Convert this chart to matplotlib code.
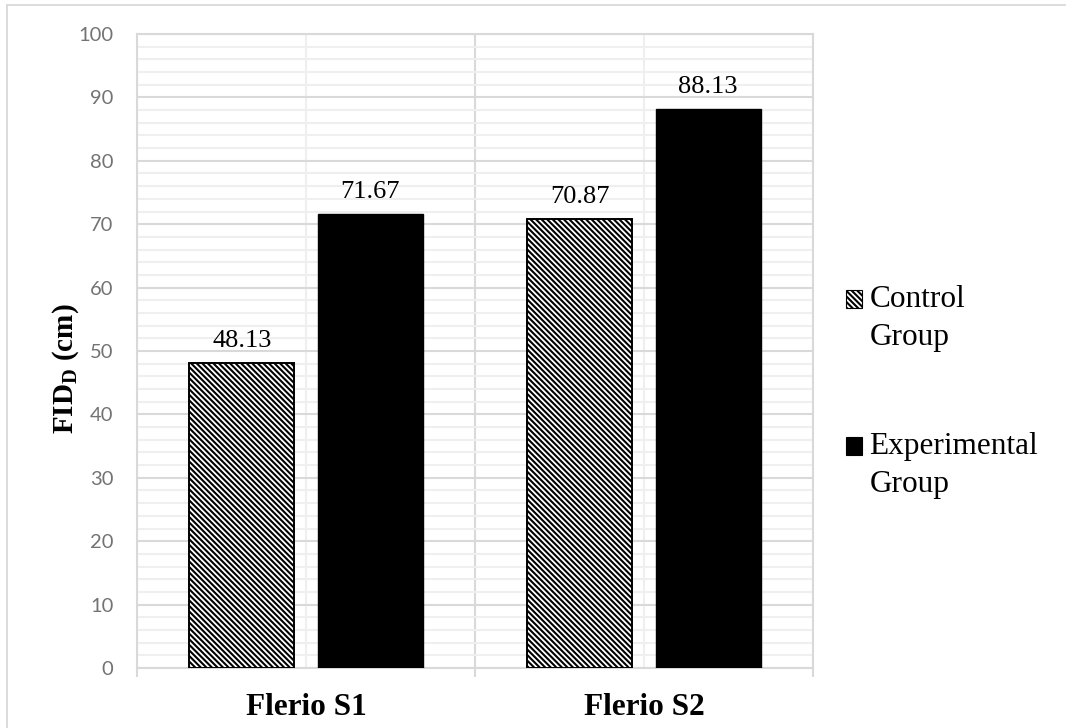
import matplotlib
matplotlib.use("Agg")
import matplotlib.pyplot as plt
from matplotlib.patches import Rectangle, Patch
from matplotlib.legend_handler import HandlerPatch
from matplotlib.ticker import MultipleLocator, FixedLocator
from matplotlib.lines import Line2D
import numpy as np

categories = ["Flerio S1", "Flerio S2"]
series_names = ["Control\nGroup", "Experimental\nGroup"]
control = [48.13, 70.87]
experimental = [71.67, 88.13]

plt.rcParams["hatch.linewidth"] = 1.5
plt.rcParams["mathtext.fontset"] = "custom"
plt.rcParams["mathtext.bf"] = "Liberation Serif:bold"
plt.rcParams["mathtext.rm"] = "Liberation Serif:bold"

SERIF = "Liberation Serif"
GRID_MAJOR = "#d9d9d9"
GRID_MINOR = "#efefef"
HATCH = "\\" * 6

fig = plt.figure(figsize=(10.75, 7.28), dpi=100)
ax = fig.add_axes([137 / 1075, 60 / 728, (813 - 137) / 1075, (668 - 34) / 728])

x = np.arange(len(categories))
width = 0.311
offset = 0.19

bars_c = ax.bar(x - offset, control, width, facecolor="white", edgecolor="black",
                hatch=HATCH, linewidth=1.4, zorder=3)
bars_e = ax.bar(x + offset, experimental, width, facecolor="black", edgecolor="black",
                linewidth=1.0, zorder=3)

for bars, vals in ((bars_c, control), (bars_e, experimental)):
    for b, v in zip(bars, vals):
        ax.annotate(f"{v:.2f}", (b.get_x() + b.get_width() / 2, v),
                    xytext=(0, 11.5), textcoords="offset points",
                    ha="center", va="baseline", fontsize=19, family=SERIF)

ax.set_xlim(-0.5, 1.5)
ax.set_ylim(0, 100)

# y grid: major every 10, minor every 2
ax.yaxis.set_major_locator(MultipleLocator(10))
ax.yaxis.set_minor_locator(MultipleLocator(2))
ax.grid(axis="y", which="major", color=GRID_MAJOR, linewidth=1.5, zorder=1)
ax.grid(axis="y", which="minor", color=GRID_MINOR, linewidth=1.5, zorder=0)

# x: boundaries as major ticks, category names on minor ticks
ax.xaxis.set_major_locator(FixedLocator([-0.5, 0.5, 1.5]))
ax.xaxis.set_minor_locator(FixedLocator(x))
ax.xaxis.set_major_formatter(plt.NullFormatter())
ax.set_xticks(x, categories, minor=True)
ax.grid(axis="x", which="major", color=GRID_MAJOR, linewidth=1.5, zorder=1)
ax.grid(axis="x", which="minor", color=GRID_MINOR, linewidth=1.5, zorder=0)
ax.set_axisbelow(True)

ax.tick_params(axis="x", which="major", length=6.5, width=1.5, color=GRID_MAJOR, direction="out")
ax.tick_params(axis="x", which="minor", length=0, pad=18)
for t in ax.get_xticklabels(minor=True):
    t.set_family(SERIF)
    t.set_fontweight("bold")
    t.set_fontsize(22.5)

ax.tick_params(axis="y", which="both", length=0, pad=17)
for t in ax.get_yticklabels():
    t.set_family("Lato")
    t.set_fontsize(14.5)
    t.set_color("#737373")

for side, sp in ax.spines.items():
    sp.set_color(GRID_MAJOR)
    sp.set_linewidth(1.5)

ax.set_ylabel(r"FID$_{\mathbf{D}}$ (cm)", family=SERIF, fontweight="bold", fontsize=21)
ax.yaxis.set_label_coords(-(137 - 81) / 676, 0.472)


class RaisedSquare(HandlerPatch):
    def __init__(self, lift, **kw):
        super().__init__(**kw)
        self.lift = lift

    def create_artists(self, legend, orig_handle, xdescent, ydescent, width, height,
                       fontsize, trans):
        p = Rectangle((-xdescent, -ydescent + self.lift * fontsize), width, height)
        self.update_prop(p, orig_handle, legend)
        p.set_linewidth(0.8)
        p.set_transform(trans)
        return [p]


h_c = Patch(facecolor="white", edgecolor="black", hatch=HATCH)
h_e = Patch(facecolor="black", edgecolor="black")
leg = fig.legend([h_c, h_e], series_names, loc="upper left",
                 bbox_to_anchor=(846 / 1075, 1 - 285 / 728),
                 frameon=False, borderpad=0, borderaxespad=0,
                 handlelength=0.5, handleheight=0.5, handletextpad=0.25,
                 labelspacing=2.56,
                 prop={"family": SERIF, "size": 22.5},
                 handler_map={Patch: RaisedSquare(0.62)})
for t in leg.get_texts():
    t.set_linespacing(1.42)

# outer chart border (top and left edges)
fig.add_artist(Line2D([7 / 1075, 1065 / 1075], [1 - 5 / 728, 1 - 5 / 728],
                      color=GRID_MAJOR, linewidth=1.3, transform=fig.transFigure))
fig.add_artist(Line2D([7 / 1075, 7 / 1075], [0, 1 - 5 / 728],
                      color=GRID_MAJOR, linewidth=1.3, transform=fig.transFigure))

fig.savefig("out.png", dpi=100)
